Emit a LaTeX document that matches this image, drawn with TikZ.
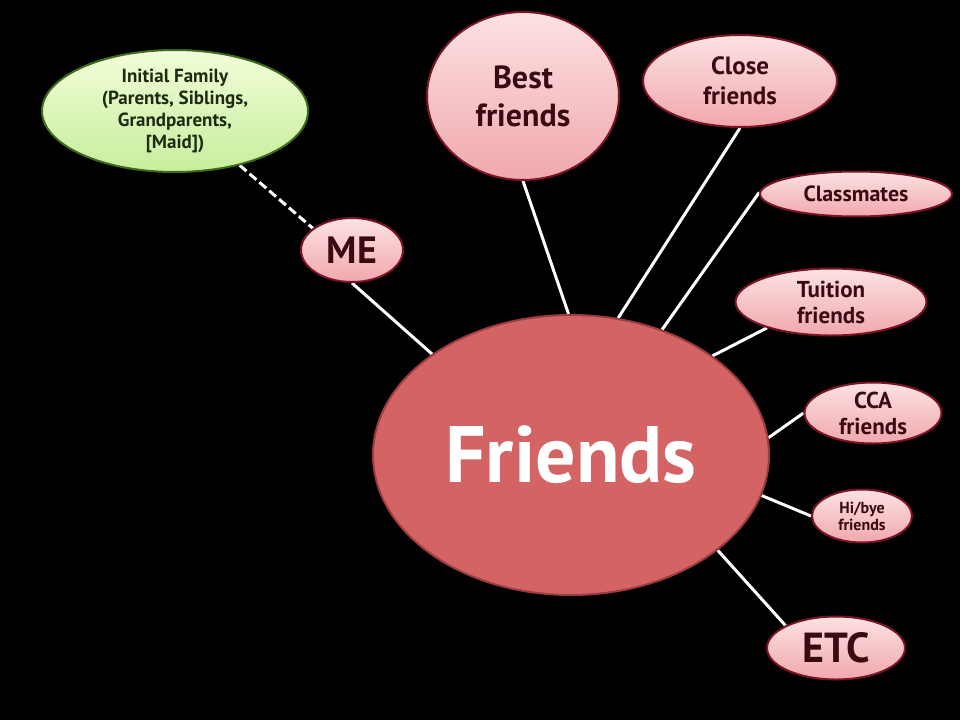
\documentclass[tikz,border=0pt]{standalone}
\usepackage{fontspec}
\setmainfont{PT Sans}
\usetikzlibrary{shapes.geometric,backgrounds}
\definecolor{txt}{HTML}{3A0A12}
\definecolor{pinkedge}{HTML}{7A1424}
\definecolor{pinktop}{HTML}{FCE2E2}
\definecolor{pinkbot}{HTML}{F0A8AE}
\definecolor{bigfill}{HTML}{D46464}
\definecolor{bigedge}{HTML}{9A3C40}
\definecolor{greentop}{HTML}{F2FDD8}
\definecolor{greenbot}{HTML}{C6EE9C}
\definecolor{greenedge}{HTML}{3E6A1C}
\definecolor{greentxt}{HTML}{1E2A12}
\tikzset{
  bubble/.style={ellipse, draw=pinkedge, line width=2pt, top color=pinktop, bottom color=pinkbot,
    inner sep=0pt, text=txt, align=center, font=\bfseries},
  link/.style={draw=white, line width=3pt},
  dashlink/.style={draw=white, line width=3pt, dash pattern=on 9pt off 4pt},
}
\begin{document}
\begin{tikzpicture}[x=1pt,y=-1pt]
\useasboundingbox (0,0) rectangle (960,720);

\node[ellipse, draw=greenedge, line width=2pt, top color=greentop, bottom color=greenbot,
  inner sep=0pt, minimum width=266pt, minimum height=122pt, text=greentxt, align=center,
  font=\bfseries\fontsize{19}{22}\selectfont] (fam) at (175,111)
  {Initial Family\\(Parents, Siblings,\\Grandparents,\\{}[Maid])};

\node[bubble, minimum width=102pt, minimum height=64pt, font=\bfseries\fontsize{38}{40}\selectfont] (me) at (352,250) {ME};

\node[ellipse, draw=bigedge, line width=2pt, fill=bigfill, inner sep=0pt,
  minimum width=396pt, minimum height=280pt, text=white, font=\bfseries\fontsize{80}{90}\selectfont] (fr) at (571,455) {Friends};

\node[bubble, minimum width=192pt, minimum height=168pt, font=\bfseries\fontsize{32}{38}\selectfont] (best) at (523,96) {Best\\friends};
\node[bubble, minimum width=194pt, minimum height=92pt, font=\bfseries\fontsize{25}{30}\selectfont] (close) at (740,81) {Close\\friends};
\node[bubble, minimum width=192pt, minimum height=45pt, font=\bfseries\fontsize{22}{24}\selectfont] (class) at (856,194) {Classmates};
\node[bubble, minimum width=191pt, minimum height=67pt, font=\bfseries\fontsize{23}{26}\selectfont] (tui) at (831,302) {Tuition\\friends};
\node[bubble, minimum width=137pt, minimum height=61pt, font=\bfseries\fontsize{23}{26}\selectfont] (cca) at (873,413) {CCA\\friends};
\node[bubble, minimum width=100pt, minimum height=53pt, font=\bfseries\fontsize{16}{17}\selectfont] (hi) at (862,516) {Hi/bye\\friends};
\node[bubble, minimum width=138pt, minimum height=63pt, font=\bfseries\fontsize{42}{44}\selectfont] (etc) at (836,648) {ETC};

\begin{scope}[on background layer]
  \fill[black] (0,0) rectangle (960,720);
  \draw[dashlink] (fam.-40.6) -- (me.151);
  \draw[link] (me.-90) -- (fr.144.7);
  \draw[link] (best.-90) -- (fr.91.2);
  \draw[link] (close.-90) -- (fr.71.8);
  \draw[link] (class.179) -- (fr.54.1);
  \draw[link] (tui.-158.5) -- (fr.35.7);
  \draw[link] (cca.180) -- (fr.5.8);
  \draw[link] (hi.180) -- (fr.-12.3);
  \draw[link] (etc.156.4) -- (fr.-33.6);
\end{scope}
\end{tikzpicture}
\end{document}
